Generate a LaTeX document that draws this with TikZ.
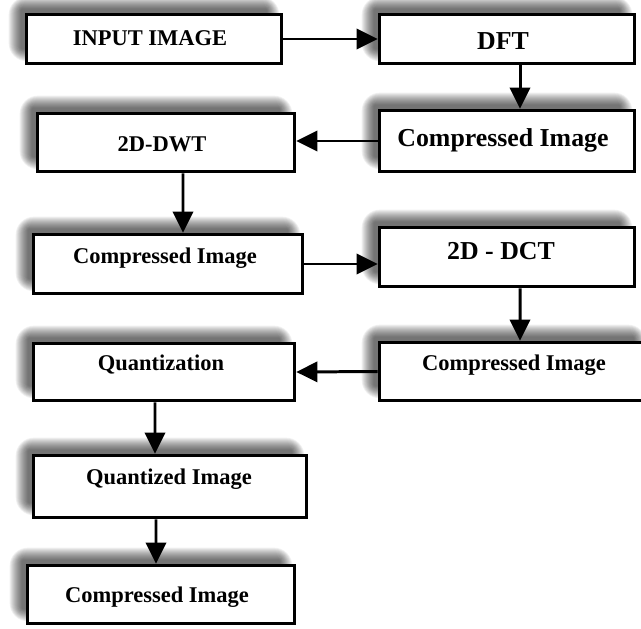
\documentclass[tikz,border=0pt]{standalone}
\usepackage{fontspec}
\setmainfont{Liberation Serif}
\usetikzlibrary{arrows.meta,calc,backgrounds}

\tikzset{
    box/.style={draw,line width=2.1pt,fill=white,inner sep=0pt},
    lbl/.style={font=\bfseries\fontsize{12.8}{15}\selectfont,anchor=base,inner sep=0pt},
    biglbl/.style={lbl,font=\bfseries\fontsize{14.7}{17}\selectfont},
    arr/.style={line width=1.7pt,-{Triangle[length=12pt,width=11.5pt]}}
}

\begin{document}
\begin{tikzpicture}[x=0.02cm,y=-0.02cm]
        % picture size in pixels of the reference
        \useasboundingbox (0,0) rectangle (641,628);

        % the boxes
        \node[box,minimum width=5.1cm,minimum height=0.98cm] (inp) at (154,39) {};
        \node[box,minimum width=5.1cm,minimum height=0.98cm] (dft) at (507,39) {};
        \node[box,minimum width=5.1cm,minimum height=1.22cm] (cmpa) at (507,141) {};
        \node[box,minimum width=5.14cm,minimum height=1.16cm] (dwt) at (166,142.5) {};
        \node[box,minimum width=5.38cm,minimum height=1.18cm] (cmpb) at (168,264) {};
        \node[box,minimum width=5.1cm,minimum height=1.18cm] (dct) at (507,257) {};
        \node[box,minimum width=5.38cm,minimum height=1.16cm] (cmpc) at (514,371.5) {};
        \node[box,minimum width=5.22cm,minimum height=1.14cm] (quant) at (164,372) {};
        \node[box,minimum width=5.46cm,minimum height=1.24cm] (qimg) at (170,486.5) {};
        \node[box,minimum width=5.34cm,minimum height=1.16cm] (cmpd) at (161,594.5) {};

        % the texts, placed on their baselines
        \node[lbl] (tinp) at (150,46) {INPUT IMAGE};
        \node[biglbl] (tdft) at (503,50) {DFT};
        \node[biglbl] (tcmpa) at (503,147) {Compressed Image};
        \node[lbl] (tdwt) at (162,152) {2D-DWT};
        \node[lbl] (tcmpb) at (165,263) {Compressed Image};
        \node[biglbl] (tdct) at (501,259) {2D - DCT};
        \node[lbl] (tcmpc) at (514,370) {Compressed Image};
        \node[lbl] (tquant) at (161,370) {Quantization};
        \node[lbl] (tqimg) at (169,484) {Quantized Image};
        \node[lbl] (tcmpd) at (157,602) {Compressed Image};

        % blurred shadows, up and to the left of each box
        \begin{scope}[on background layer]
            \foreach \n in {inp,dft,cmpa,dwt,cmpb,dct,cmpc,quant,qimg,cmpd}{
                \foreach \s in {-6,...,6}{
                    \pgfmathsetmacro\r{(\s+7)*0.8}
                    \fill[black,opacity=0.06,rounded corners=\r pt]
                        ($(\n.north west)+(-10-\s,-10-\s)$) rectangle
                        ($(\n.south east)+(-10+\s,-10+\s)$);
                }
            }
        \end{scope}

        % the arrows
        \draw[arr] (inp.east) -- (dft.west);
        \draw[arr] ([xshift=0.26cm]dft.south) -- ([xshift=0.26cm]cmpa.north);
        \draw[arr] (cmpa.west) -- (cmpa.west -| dwt.east);
        \draw[arr] ([xshift=0.34cm]dwt.south) -- ([xshift=0.3cm]cmpb.north);
        \draw[arr] (cmpb.east) -- (cmpb.east -| dct.west);
        \draw[arr] ([xshift=0.26cm]dct.south) -- ([xshift=0.12cm]cmpc.north);
        \draw[arr] (cmpc.west) -- (quant.east);
        \draw[arr] ([xshift=-0.18cm]quant.south) -- ([xshift=-0.3cm]qimg.north);
        \draw[arr] ([xshift=-0.28cm]qimg.south) -- ([xshift=-0.1cm]cmpd.north);
\end{tikzpicture}
\end{document}
